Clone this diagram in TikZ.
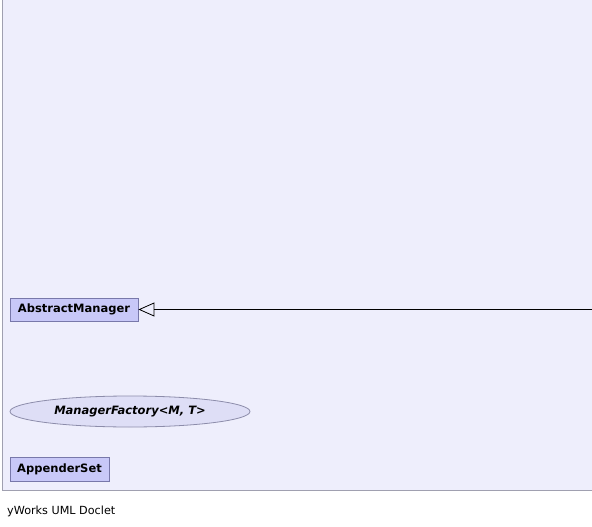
\documentclass[tikz,border=0pt]{standalone}
\usepackage{fontspec}
\setmainfont{DejaVu Sans}
\usetikzlibrary{shapes.geometric,arrows.meta}
\definecolor{bgfill}{RGB}{238,238,252}
\definecolor{bgline}{RGB}{160,160,176}
\definecolor{clsfill}{RGB}{200,200,248}
\definecolor{clsline}{RGB}{120,120,170}
\definecolor{elfill}{RGB}{222,222,246}
\definecolor{elline}{RGB}{140,140,170}
\begin{document}
\begin{tikzpicture}[x=1pt,y=-1pt,
  cls/.style={draw=clsline,fill=clsfill,line width=0.8pt,inner sep=0pt,font=\fontsize{11.5}{13}\selectfont\bfseries},
  iface/.style={ellipse,draw=elline,fill=elfill,line width=0.8pt,inner sep=0pt,font=\fontsize{11.5}{13}\selectfont\bfseries\itshape},
  gen/.style={-{Triangle[open,length=16pt,width=14pt]},line width=0.8pt,fill=white}]
\useasboundingbox (0,0) rectangle (592,527);
\fill[bgfill] (2,-2) rectangle (594,490);
\draw[bgline,line width=0.8pt] (2,-2) -- (2,490) -- (594,490);
\node[cls,minimum width=128pt,minimum height=23pt] (am) at (74,309.5) {AbstractManager};
\node[iface,minimum width=240pt,minimum height=31pt] (mf) at (130,411.5) {ManagerFactory<M, T>};
\node[cls,minimum width=99pt,minimum height=24pt] (as) at (59.5,469) {AppenderSet};
\coordinate (re) at (594,309.5);
\draw[gen] (re) -- (am.east);
\node[anchor=west,inner sep=0pt,font=\fontsize{11.2}{13}\selectfont] (doc) at (7,511) {yWorks UML Doclet};
\end{tikzpicture}
\end{document}
